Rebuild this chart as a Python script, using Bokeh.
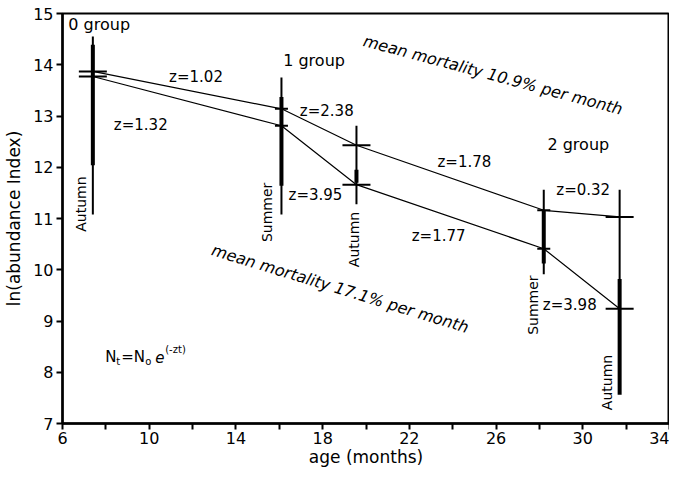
from bokeh.plotting import figure
from bokeh.models import Label, FixedTicker, Range1d
from bokeh.embed import file_html
from bokeh.resources import INLINE
from bokeh.core.properties import value
import math

# ---------------- data ----------------
ages = [7.4, 16.1, 19.56, 28.2, 31.7]
upper_ln = [13.87, 13.14, 12.43, 11.16, 11.03]
lower_ln = [13.77, 12.81, 11.66, 10.41, 9.24]
seasons = ["Autumn", "Summer", "Autumn", "Summer", "Autumn"]
thin_top = [14.55, 13.75, 12.81, 11.56, 11.56]
thin_bot = [11.08, 11.08, 11.28, 9.91, 9.82]
thick_top = [14.39, 13.37, 11.95, 11.16, 9.82]
thick_bot = [12.04, 11.64, 11.70, 10.12, 7.56]
z_upper = ["z=1.02", "z=2.38", "z=1.78", "z=0.32"]
z_lower = ["z=1.32", "z=3.95", "z=1.77", "z=3.98"]
groups = ["0 group", "1 group", "2 group"]
mortality = ["mean mortality 10.9% per month", "mean mortality 17.1% per month"]
x_ticks = [6, 10, 14, 18, 22, 26, 30, 34]
x_minor = [8, 12, 16, 20, 24, 28, 32]
y_ticks = [7, 8, 9, 10, 11, 12, 13, 14, 15]

# ---------------- annotation placement ----------------
FONT = "DejaVu Sans"
season_x = [6.87, 15.43, 19.45, 27.71, 31.14]
season_y = [11.28, 11.12, 10.59, 9.31, 7.80]
zu_x = [12.16, 18.19, 24.54, 30.02]
zu_y = [13.76, 13.09, 12.10, 11.55]
zl_x = [9.61, 17.67, 23.35, 29.40]
zl_y = [12.83, 11.46, 10.66, 9.32]
group_x = [6.27, 16.18, 28.37]
group_y = [14.78, 14.08, 12.45]
mort_x = [25.86, 18.81]
mort_y = [13.80, 9.63]
mort_angle = [-15 * math.pi / 180, -17 * math.pi / 180]

p = figure(width=669, height=469, output_backend="svg", toolbar_location=None,
           x_range=Range1d(6, 34), y_range=Range1d(7, 15),
           min_border_left=62, min_border_right=0, min_border_top=13, min_border_bottom=40)
p.grid.visible = False
p.outline_line_color = "black"
p.outline_line_width = 2
p.background_fill_color = "white"
p.border_fill_color = "white"

for ax in (p.xaxis[0], p.yaxis[0]):
    ax.axis_line_width = 2.5
    ax.major_tick_line_width = 2
    ax.minor_tick_line_width = 2
    ax.major_tick_in = 0
    ax.major_tick_out = 6
    ax.minor_tick_in = 0
    ax.major_label_text_font = FONT
    ax.major_label_text_font_size = "16px"
    ax.major_label_text_color = "black"
    ax.axis_label_text_font = FONT
    ax.axis_label_text_font_size = "17px"
    ax.axis_label_text_font_style = "normal"
    ax.axis_label_text_color = "black"

p.xaxis.ticker = FixedTicker(ticks=x_ticks, minor_ticks=x_minor)
p.xaxis.minor_tick_out = 6
p.yaxis.ticker = FixedTicker(ticks=y_ticks, minor_ticks=[])
p.yaxis.minor_tick_out = 0
p.xaxis.major_label_standoff = 2
p.yaxis.major_label_standoff = 3
p.xaxis.axis_label = "age (months)"
p.yaxis.axis_label = "ln(abundance Index)"
p.xaxis.axis_label_standoff = 0
p.yaxis.axis_label_standoff = 6

# connecting lines
p.line(ages, upper_ln, line_color="black", line_width=1.2)
p.line(ages, lower_ln, line_color="black", line_width=1.2)

# error bars
p.segment(ages, thin_top, ages, thin_bot, line_color="black", line_width=2)
p.segment(ages, thick_top, ages, thick_bot, line_color="black", line_width=4)

# point markers (horizontal dashes)
dash_size = [28 if s == "Autumn" else 13 for s in seasons]
p.scatter(ages, upper_ln, marker="dash", size=dash_size, line_color="black", line_width=2)
p.scatter(ages, lower_ln, marker="dash", size=dash_size, line_color="black", line_width=2)

# season labels
p.text(season_x, season_y, text=seasons, angle=math.pi / 2, text_align="center",
       text_baseline="middle", text_font=value(FONT), text_font_size="14px", text_color="black")
# z labels
p.text(zu_x, zu_y, text=z_upper, text_align="center", text_baseline="middle",
       text_font=value(FONT), text_font_size="15px", text_color="black")
p.text(zl_x, zl_y, text=z_lower, text_align="center", text_baseline="middle",
       text_font=value(FONT), text_font_size="15px", text_color="black")
# group labels
p.text(group_x, group_y, text=groups, text_align="left", text_baseline="middle",
       text_font=value(FONT), text_font_size="16px", text_color="black")
# mortality labels
p.text(mort_x, mort_y, text=mortality, angle=mort_angle, text_align="center",
       text_baseline="middle", text_font=value(FONT), text_font_size="16px",
       text_font_style="italic", text_color="black")

# formula N_t = N_o e^(-zt)
fx, fy = 7.97, 8.3
pieces = [("N", 0, 0, "15px", "normal"), ("t", 11, -5, "10px", "normal"),
          ("=N", 16, 0, "15px", "normal"), ("o", 40, -5, "10px", "normal"),
          ("e", 50, 0, "15px", "italic"), ("(-zt)", 60, 7, "10px", "normal")]
for txt, dx, dy, fs, st in pieces:
    p.add_layout(Label(x=fx, y=fy, x_offset=dx, y_offset=dy, text=txt, text_font=FONT,
                       text_font_size=fs, text_font_style=st, text_baseline="middle",
                       text_color="black"))

open("out.html", "w").write(file_html(p, INLINE))
